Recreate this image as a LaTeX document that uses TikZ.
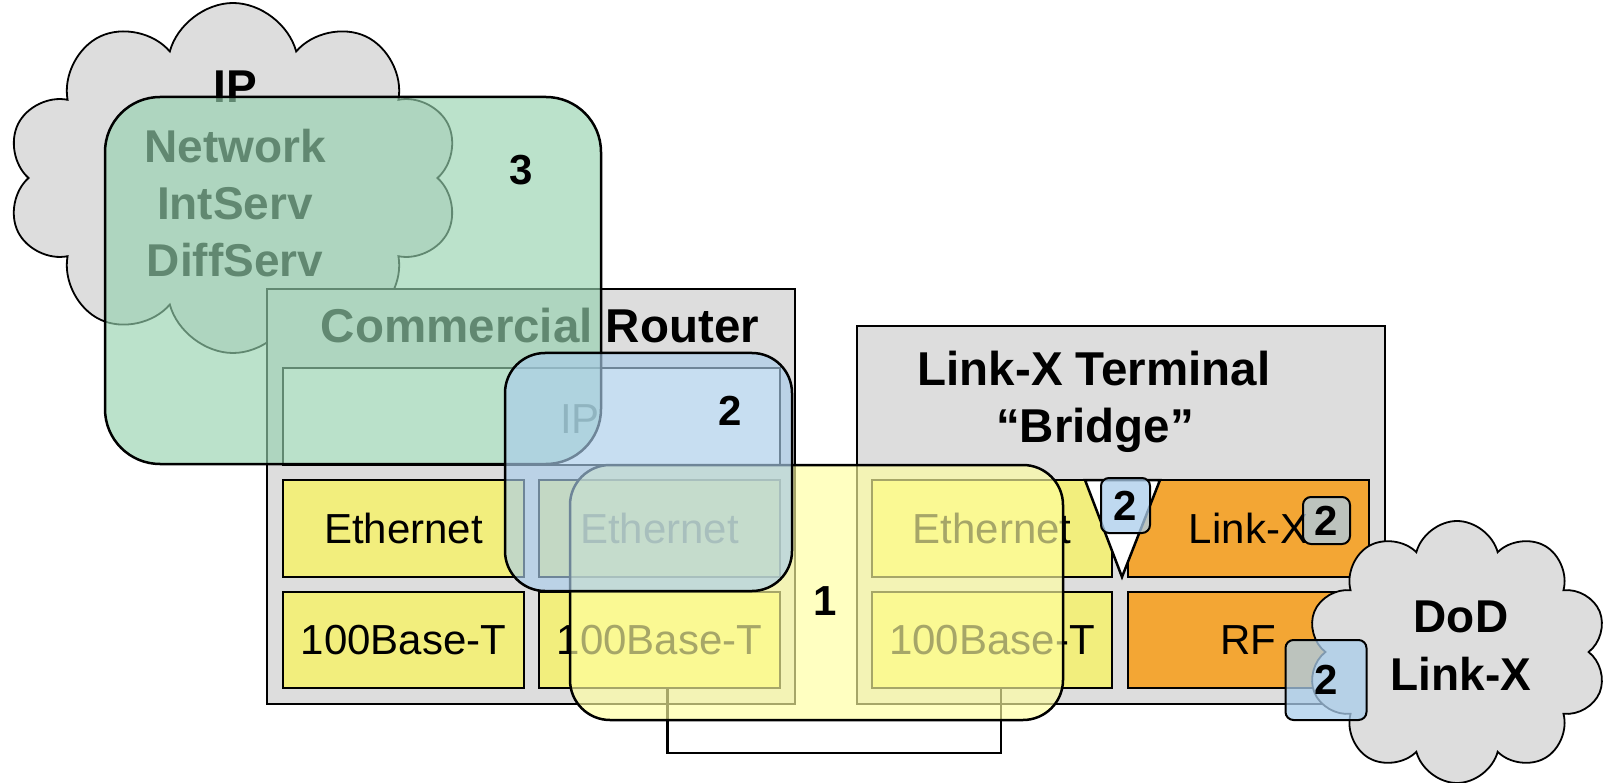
\documentclass[tikz,border=0pt]{standalone}
\usepackage{fontspec}
\setmainfont{Liberation Sans}
\usetikzlibrary{shapes.symbols}
\definecolor{grayfill}{RGB}{221,221,221}
\definecolor{yboxfill}{RGB}{242,238,125}
\definecolor{oboxfill}{RGB}{243,166,52}
\definecolor{grnov}{RGB}{150,210,175}
\definecolor{bluov}{RGB}{170,205,235}
\definecolor{yelov}{RGB}{255,255,160}
\tikzset{
  panel/.style={draw, line width=2.5pt, fill=grayfill, anchor=north west, inner sep=0pt, outer sep=0pt},
  layer/.style={draw, line width=2.5pt, anchor=north west, inner sep=0pt, outer sep=0pt, font=\fontsize{42}{50}\selectfont},
  ylayer/.style={layer, fill=yboxfill},
  olayer/.style={layer, fill=oboxfill},
  title/.style={font=\fontsize{47.5}{57}\selectfont\bfseries, anchor=base, inner sep=0pt},
  cloudtext/.style={font=\fontsize{46}{55}\selectfont\bfseries, anchor=base, inner sep=0pt},
  plain/.style={font=\fontsize{42}{50}\selectfont, anchor=base, inner sep=0pt},
  num/.style={font=\fontsize{42}{50}\selectfont\bfseries, anchor=base, inner sep=0pt},
  overlaybox/.style={draw, line width=2.5pt, anchor=north west, inner sep=0pt, outer sep=0pt, fill opacity=0.65},
  tag/.style={draw, line width=2pt, rounded corners=8pt, fill=bluov, fill opacity=0.75, text opacity=1, font=\fontsize{42}{50}\selectfont\bfseries, inner sep=0pt},
  cloudshape/.style={cloud, cloud puffs=10, cloud ignores aspect, draw, line width=1.8pt, fill=grayfill, inner sep=0pt},
  conn/.style={draw, line width=2.5pt},
}
\begin{document}
\begin{tikzpicture}[x=1pt, y=-1pt]
\useasboundingbox (0,0) rectangle (1606,783);

% IP cloud
\node[cloudshape, minimum width=452pt, minimum height=350pt] (ipcloud) at (233,178) {};
\node[cloudtext] (ct1) at (235,103) {IP};
\node[cloudtext] (ct2) at (235,163) {Network};
\node[cloudtext] (ct3) at (235,220) {IntServ};
\node[cloudtext] (ct4) at (235,277) {DiffServ};

% Commercial router
\node[panel, minimum width=528pt, minimum height=415pt] (router) at (267,289) {};
\node[title] (rtitle) at (540,343) {Commercial Router};
\node[layer, fill=white, line width=2pt, minimum width=497pt, minimum height=97pt] (rip) at (283,368) {};
\node[plain] (riptext) at (580,433) {IP};
\node[ylayer, minimum width=241pt, minimum height=97pt] (reth1) at (283,480) {Ethernet};
\node[ylayer, minimum width=241pt, minimum height=97pt] (reth2) at (539,480) {Ethernet};
\node[ylayer, minimum width=241pt, minimum height=96pt] (rbase1) at (283,592) {100Base-T};
\node[ylayer, minimum width=241pt, minimum height=96pt] (rbase2) at (539,592) {100Base-T};

% Link-X terminal bridge
\node[panel, minimum width=528pt, minimum height=378pt] (bridge) at (857,326) {};
\node[title] (btitle1) at (1094,385) {Link-X Terminal};
\node[title] (btitle2) at (1095,442) {“Bridge”};
\node[ylayer, minimum width=240pt, minimum height=97pt] (beth) at (872,480) {Ethernet};
\node[olayer, minimum width=241pt, minimum height=97pt] (blinkx) at (1128,480) {Link-X};
\node[ylayer, minimum width=240pt, minimum height=96pt] (bbase) at (872,592) {100Base-T};
\node[olayer, minimum width=241pt, minimum height=96pt] (brf) at (1128,592) {RF};

% connector
\draw[conn] ([xshift=8pt]rbase2.south) -- ++(0,65) -| ([xshift=9pt]bbase.south);

% triangle
\draw[line width=2.5pt, fill=white, line join=miter] (1085,480) -- (1160,480) -- (1122,577) -- cycle;

% overlays
\node[overlaybox, fill=grnov, rounded corners=55pt, minimum width=496pt, minimum height=367pt] (grn) at (105,97) {};
\node[overlaybox, fill=yelov, rounded corners=40pt, minimum width=493pt, minimum height=255pt] (yel) at (570,465) {};
\node[overlaybox, fill=bluov, rounded corners=40pt, minimum width=287pt, minimum height=238pt] (blu) at (505,353) {};

\node[num] (n3) at (521,185) {3};
\node[num] (n1) at (825,615) {1};
\node[num] (n2) at (730,425) {2};

% DoD cloud
\node[cloudshape, minimum width=300pt, minimum height=262pt] (dodcloud) at (1457,652) {};
\node[cloudtext] (dod1) at (1461,632) {DoD};
\node[cloudtext] (dod2) at (1461,690) {Link-X};

% small tags
\node[tag, minimum width=49pt, minimum height=55pt] (tagtri) at (1125.5,505.5) {2};
\node[tag, minimum width=47pt, minimum height=47pt] (taglx) at (1326.5,520.5) {2};
\node[tag, minimum width=81pt, minimum height=80pt] (tagrf) at (1326,680) {2};
\end{tikzpicture}
\end{document}
